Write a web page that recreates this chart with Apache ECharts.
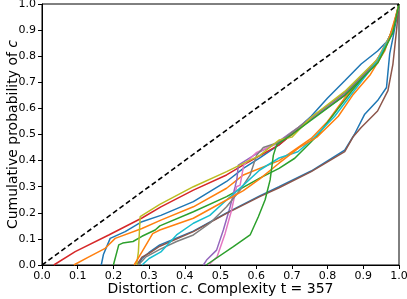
<!DOCTYPE html>
<html>
<head>
<meta charset="utf-8">
<script src="https://cdn.jsdelivr.net/npm/echarts@6/dist/echarts.min.js"></script>
<style>html,body{margin:0;padding:0;background:#fff}#c{width:407px;height:299px}</style>
</head>
<body>
<div id="c"></div>
<script>
// Tick labels
var tickLabels = ['0.0','0.1','0.2','0.3','0.4','0.5','0.6','0.7','0.8','0.9','1.0'];
var diagonal = [[0,0],[1,1]];
// Empirical CDF curves, [distortion, cumulative probability]
var blueA = [[0.166,0],[0.172,0.04],[0.191,0.102],[0.233,0.128],[0.28,0.166],[0.333,0.19],[0.424,0.243],[0.517,0.32],[0.564,0.37],[0.61,0.41],[0.664,0.46],[0.754,0.57],[0.80,0.64],[0.848,0.706],[0.894,0.77],[0.94,0.82],[0.969,0.86],[0.99,0.93],[1,1]];
var orangeA = [[0.089,0],[0.13,0.03],[0.177,0.064],[0.205,0.102],[0.28,0.14],[0.333,0.172],[0.424,0.223],[0.517,0.294],[0.564,0.345],[0.664,0.40],[0.754,0.485],[0.80,0.55],[0.848,0.64],[0.90,0.72],[0.94,0.79],[0.975,0.88],[0.99,0.95],[1,1]];
var greenA = [[0.2,0],[0.215,0.077],[0.226,0.084],[0.255,0.09],[0.28,0.11],[0.317,0.134],[0.33,0.15],[0.424,0.204],[0.517,0.262],[0.61,0.333],[0.664,0.37],[0.708,0.409],[0.773,0.498],[0.83,0.6],[0.87,0.67],[0.92,0.75],[0.96,0.83],[0.99,0.93],[1,1]];
var red = [[0.033,0],[0.093,0.051],[0.187,0.115],[0.28,0.18],[0.333,0.223],[0.424,0.287],[0.517,0.345],[0.563,0.383],[0.664,0.46],[0.754,0.56],[0.848,0.65],[0.941,0.78],[0.983,0.895],[1,1]];
var purple = [[0.452,0],[0.461,0.019],[0.489,0.057],[0.508,0.134],[0.527,0.223],[0.541,0.30],[0.546,0.33],[0.55,0.383],[0.61,0.434],[0.65,0.46],[0.70,0.51],[0.754,0.56],[0.848,0.655],[0.941,0.785],[0.983,0.9],[1,1]];
var blueB = [[0.27,0],[0.28,0.025],[0.3,0.048],[0.33,0.077],[0.424,0.13],[0.517,0.20],[0.61,0.265],[0.664,0.30],[0.754,0.36],[0.848,0.44],[0.875,0.5],[0.904,0.578],[0.94,0.63],[0.965,0.68],[0.974,0.81],[0.983,0.87],[1,1]];
var brown = [[0.265,0],[0.28,0.03],[0.3,0.045],[0.33,0.072],[0.424,0.128],[0.517,0.198],[0.61,0.262],[0.664,0.296],[0.754,0.358],[0.848,0.434],[0.871,0.49],[0.894,0.527],[0.94,0.59],[0.969,0.668],[0.983,0.77],[0.993,0.898],[1,1]];
var pink = [[0.466,0],[0.49,0.03],[0.513,0.121],[0.531,0.21],[0.545,0.30],[0.555,0.306],[0.565,0.383],[0.60,0.43],[0.664,0.47],[0.754,0.565],[0.848,0.66],[0.941,0.79],[0.983,0.9],[1,1]];
var gray = [[0.27,0],[0.29,0.03],[0.33,0.06],[0.377,0.09],[0.424,0.115],[0.47,0.16],[0.517,0.223],[0.555,0.287],[0.583,0.345],[0.601,0.42],[0.62,0.45],[0.664,0.47],[0.754,0.565],[0.848,0.66],[0.941,0.785],[0.983,0.9],[1,1]];
var olive = [[0.265,0],[0.27,0.05],[0.275,0.185],[0.33,0.232],[0.424,0.30],[0.517,0.358],[0.61,0.42],[0.664,0.479],[0.70,0.49],[0.754,0.566],[0.848,0.665],[0.941,0.79],[0.983,0.9],[1,1]];
var cyan = [[0.28,0],[0.3,0.025],[0.333,0.05],[0.377,0.115],[0.424,0.16],[0.47,0.19],[0.517,0.249],[0.564,0.306],[0.61,0.364],[0.664,0.41],[0.717,0.434],[0.76,0.485],[0.82,0.57],[0.87,0.66],[0.941,0.785],[0.983,0.9],[1,1]];
var orangeB = [[0.258,0],[0.28,0.05],[0.31,0.12],[0.33,0.134],[0.424,0.179],[0.517,0.249],[0.564,0.285],[0.61,0.33],[0.664,0.39],[0.72,0.45],[0.77,0.49],[0.83,0.57],[0.87,0.65],[0.92,0.73],[0.96,0.82],[0.985,0.92],[1,1]];
var greenB = [[0.46,0],[0.536,0.07],[0.583,0.115],[0.606,0.185],[0.625,0.25],[0.639,0.326],[0.648,0.42],[0.657,0.46],[0.70,0.50],[0.754,0.555],[0.848,0.65],[0.941,0.775],[0.983,0.89],[1,1]];

var curves = [
  [blueA,'#1f77b4'],[orangeA,'#ff7f0e'],[greenA,'#2ca02c'],[red,'#d62728'],
  [purple,'#9467bd'],[blueB,'#1f77b4'],[brown,'#8c564b'],[pink,'#e377c2'],
  [gray,'#7f7f7f'],[olive,'#bcbd22'],[cyan,'#17becf'],[orangeB,'#ff7f0e'],[greenB,'#2ca02c']
];
var series = [{
  type:'line', data: diagonal, symbol:'none', silent:true, z:3,
  lineStyle:{color:'#000', width:1.6, type:[5,3]}
}];
curves.forEach(function(c){
  series.push({type:'line', data:c[0], symbol:'none', showSymbol:false, z:2,
    lineStyle:{color:c[1], width:1.5}});
});
function fmt(v){ var i = Math.round(Number(v)*10); return tickLabels[i] !== undefined ? tickLabels[i] : String(v); }
var font = 'DejaVu Sans';
var chart = echarts.init(document.getElementById('c'), null, {renderer:'canvas'});
chart.setOption({
  animation:false,
  backgroundColor:'#fff',
  grid:{left:42, right:8, top:4, bottom:34, containLabel:false, outerBoundsMode:'none',
    show:true, borderColor:'#000', borderWidth:1},
  xAxis:{type:'value', min:0, max:1, interval:0.1,
    axisLine:{lineStyle:{color:'#000', width:1}},
    axisTick:{show:true, length:4, lineStyle:{color:'#000'}},
    splitLine:{show:false},
    axisLabel:{color:'#000', fontFamily:font, fontSize:11, margin:6, showMaxLabel:true, showMinLabel:true, hideOverlap:false,
      formatter:fmt},
    name:'{a|Distortion }{b|c}{a|. Complexity t = 357}',
    nameLocation:'middle', nameGap:17, nameMoveOverlap:false,
    nameTextStyle:{color:'#000', fontFamily:font, fontSize:14, verticalAlign:'top',
      rich:{a:{fontFamily:font, fontSize:14, color:'#000'}, b:{fontFamily:font, fontSize:14, fontStyle:'italic', color:'#000'}}}
  },
  yAxis:{type:'value', min:0, max:1, interval:0.1,
    axisLine:{show:true, lineStyle:{color:'#000', width:1}},
    axisTick:{show:true, length:4, lineStyle:{color:'#000'}},
    splitLine:{show:false},
    axisLabel:{color:'#000', fontFamily:font, fontSize:11, margin:6, showMaxLabel:true, showMinLabel:true, hideOverlap:false,
      formatter:fmt},
    name:'{a|Cumulative probability of }{b|c}',
    nameLocation:'middle', nameGap:22, nameRotate:90, nameMoveOverlap:false,
    nameTextStyle:{color:'#000', fontFamily:font, fontSize:14, verticalAlign:'bottom',
      rich:{a:{fontFamily:font, fontSize:14, color:'#000'}, b:{fontFamily:font, fontSize:14, fontStyle:'italic', color:'#000'}}}
  },
  series: series
});
</script>
</body>
</html>
